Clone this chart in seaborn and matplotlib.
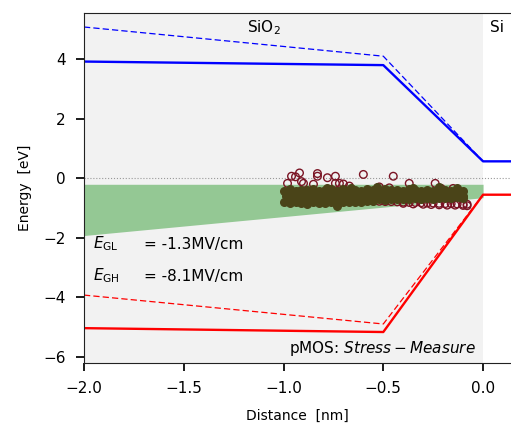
import matplotlib
matplotlib.use("Agg")
import matplotlib.pyplot as plt
import seaborn as sns

# ---- band-edge lines (distance nm, energy eV) ----
cb_x = [-2.0, -0.5, 0.0, 0.14]
cb_solid = [3.92, 3.80, 0.57, 0.57]
cb_dash_x = [-2.0, -0.5, 0.0]
cb_dash = [5.08, 4.10, 0.57]
vb_x = [-2.0, -0.5, 0.0, 0.14]
vb_solid = [-5.03, -5.16, -0.55, -0.55]
vb_dash_x = [-2.0, -0.5, 0.0]
vb_dash = [-3.92, -4.89, -0.55]

# ---- trap band (green) ----
band_x = [-2.0, 0.0]
band_top = [-0.20, -0.20]
band_bot = [-1.92, -0.65]

# ---- defects: measure (dark red) ----
red_x = [-0.96, -0.92, -0.83, -0.83, -0.78, -0.74, -0.60, -0.45, -0.37, -0.24,
         -0.98, -0.94, -0.91, -0.90, -0.85, -0.74, -0.72, -0.70, -0.67, -0.52,
         -0.47, -0.21, -0.15,
         -0.55, -0.52, -0.49, -0.46, -0.43, -0.40, -0.37, -0.34, -0.31, -0.28,
         -0.25, -0.22, -0.19, -0.16, -0.13, -0.10, -0.08,
         -0.40, -0.35, -0.30, -0.26, -0.22, -0.18, -0.14, -0.10, -0.08]
red_y = [0.07, 0.18, 0.16, 0.07, 0.02, 0.07, 0.13, 0.07, -0.17, -0.17,
         -0.17, 0.05, -0.11, -0.17, -0.20, -0.17, -0.17, -0.19, -0.26, -0.29,
         -0.32, -0.34, -0.34,
         -0.76, -0.77, -0.78, -0.78, -0.79, -0.80, -0.81, -0.81, -0.82, -0.83,
         -0.83, -0.84, -0.85, -0.85, -0.86, -0.87, -0.87,
         -0.84, -0.86, -0.87, -0.88, -0.89, -0.90, -0.90, -0.91, -0.92]

# ---- defects: stress (olive) ----
olive_x = [-1.00, -0.97, -0.94, -0.91, -0.88, -0.85, -0.82, -0.79, -0.76, -0.73,
           -0.70, -0.67, -0.64, -0.61, -0.58, -0.55, -0.52, -0.49, -0.46, -0.43,
           -0.40, -0.37, -0.34, -0.31, -0.28, -0.25, -0.22, -0.19, -0.16, -0.13, -0.10,
           -0.985, -0.955, -0.925, -0.895, -0.865, -0.835, -0.805, -0.775, -0.745, -0.715,
           -0.685, -0.655, -0.625, -0.595, -0.565, -0.535, -0.505, -0.475, -0.445, -0.415,
           -0.385, -0.355, -0.325, -0.295, -0.265, -0.235, -0.205, -0.175, -0.145, -0.115,
           -0.99, -0.96, -0.93, -0.90, -0.87, -0.84, -0.81, -0.78, -0.75, -0.72,
           -0.69, -0.66, -0.63, -0.60, -0.57, -0.54, -0.51, -0.48, -0.45, -0.42,
           -0.39, -0.36, -0.33, -0.30, -0.27, -0.24, -0.21, -0.18, -0.15, -0.12, -0.10,
           -0.985, -0.955, -0.925, -0.895, -0.865, -0.835, -0.805, -0.775, -0.745, -0.715,
           -0.685, -0.655, -0.625, -0.595, -0.565, -0.535, -0.505, -0.475, -0.445, -0.415,
           -0.385, -0.355, -0.325, -0.295, -0.265, -0.235, -0.205, -0.175, -0.145, -0.115,
           -1.00, -0.97, -0.94, -0.91, -0.88, -0.85, -0.82, -0.79, -0.76, -0.73,
           -0.70, -0.67, -0.64, -0.61, -0.58, -0.55, -0.52, -0.49, -0.46, -0.43,
           -0.40, -0.37, -0.34, -0.31, -0.28, -0.25, -0.22, -0.19, -0.16, -0.13, -0.10,
           -0.73, -0.35, -0.22, -0.13, -0.53, -0.78, -0.66]
olive_y = [-0.41, -0.37, -0.42, -0.38, -0.40, -0.36, -0.41, -0.39, -0.37, -0.42,
           -0.35, -0.40, -0.38, -0.41, -0.37, -0.39, -0.42, -0.36, -0.40, -0.38,
           -0.41, -0.37, -0.40, -0.42, -0.38, -0.41, -0.37, -0.40, -0.42, -0.39, -0.41,
           -0.51, -0.49, -0.52, -0.50, -0.48, -0.51, -0.50, -0.52, -0.49, -0.51,
           -0.50, -0.48, -0.52, -0.50, -0.49, -0.51, -0.50, -0.52, -0.49, -0.50,
           -0.51, -0.48, -0.50, -0.52, -0.49, -0.51, -0.50, -0.48, -0.51, -0.50,
           -0.60, -0.64, -0.58, -0.62, -0.59, -0.63, -0.61, -0.57, -0.62, -0.60,
           -0.63, -0.57, -0.60, -0.61, -0.57, -0.60, -0.58, -0.56, -0.61, -0.59,
           -0.57, -0.60, -0.58, -0.56, -0.60, -0.58, -0.61, -0.57, -0.59, -0.56, -0.60,
           -0.71, -0.73, -0.70, -0.72, -0.71, -0.73, -0.70, -0.72, -0.71, -0.69,
           -0.71, -0.69, -0.69, -0.67, -0.68, -0.66, -0.64, -0.66, -0.65, -0.63,
           -0.65, -0.64, -0.62, -0.64, -0.63, -0.61, -0.63, -0.62, -0.60, -0.62,
           -0.81, -0.84, -0.80, -0.83, -0.85, -0.81, -0.84, -0.82, -0.79, -0.84,
           -0.81, -0.78, -0.80, -0.78, -0.75, -0.75, -0.71, -0.72, -0.69, -0.71,
           -0.68, -0.70, -0.67, -0.69, -0.66, -0.68, -0.65, -0.67, -0.66, -0.64, -0.66,
           -0.94, -0.31, -0.29, -0.31, -0.28, -0.31, -0.32]

sns.set_style("ticks")
plt.rcParams["font.family"] = ["DejaVu Sans"]
plt.rcParams["text.color"] = "black"
plt.rcParams["axes.labelcolor"] = "black"
plt.rcParams["xtick.color"] = "black"
plt.rcParams["ytick.color"] = "black"
plt.rcParams["axes.edgecolor"] = "#222222"

fig = plt.figure(figsize=(5.11, 4.23), dpi=100)
ax = fig.add_axes([84 / 511, 60 / 423, 427 / 511, 350 / 423])

ax.axvspan(-2.0, 0.0, color="#f2f2f2", zorder=0, lw=0)
ax.fill_between(band_x, band_top, band_bot, color="#94c894", lw=0, zorder=1)
ax.axhline(0, color="#999999", ls=":", lw=0.8, zorder=1.5)

dash = (0, (5, 2.5))
sns.lineplot(x=cb_x, y=cb_solid, color="blue", lw=1.7, ax=ax, estimator=None, sort=False)
sns.lineplot(x=cb_dash_x, y=cb_dash, color="blue", lw=0.9, ls=dash, ax=ax, estimator=None, sort=False)
sns.lineplot(x=vb_x, y=vb_solid, color="red", lw=1.7, ax=ax, estimator=None, sort=False)
sns.lineplot(x=vb_dash_x, y=vb_dash, color="red", lw=0.9, ls=dash, ax=ax, estimator=None, sort=False)

sns.scatterplot(x=red_x, y=red_y, ax=ax, s=30, marker="o", facecolor="none",
                edgecolor="#7a1424", linewidth=1.0, zorder=3)
sns.scatterplot(x=olive_x, y=olive_y, ax=ax, s=30, marker="o", facecolor="#4a4418",
                edgecolor="#4a4418", linewidth=1.0, zorder=4)

fs = 11
ax.text(-1.10, 5.07, r"SiO$_2$", ha="center", va="center", fontsize=fs)
ax.text(0.035, 5.07, "Si", ha="left", va="center", fontsize=fs)
ax.text(-1.955, -2.21, r"$E_{\mathrm{GL}}$", ha="left", va="center", fontsize=fs)
ax.text(-1.70, -2.21, "= -1.3MV/cm", ha="left", va="center", fontsize=fs)
ax.text(-1.955, -3.28, r"$E_{\mathrm{GH}}$", ha="left", va="center", fontsize=fs)
ax.text(-1.70, -3.28, "= -8.1MV/cm", ha="left", va="center", fontsize=fs)
ax.text(-0.035, -5.73, r"pMOS: $Stress-Measure$", ha="right", va="center", fontsize=fs)

ax.set_xlim(-2.0, 0.14)
ax.set_ylim(-6.2, 5.55)
ax.set_xticks([-2.0, -1.5, -1.0, -0.5, 0.0])
ax.set_yticks([-6, -4, -2, 0, 2, 4])
ax.set_xlabel("Distance  [nm]", fontsize=10, labelpad=9)
ax.set_ylabel("Energy  [eV]", fontsize=10, labelpad=8)
ax.spines["right"].set_visible(False)
ax.tick_params(labelsize=11, width=1.25, length=6, pad=7)

fig.savefig("out.png", dpi=100)
